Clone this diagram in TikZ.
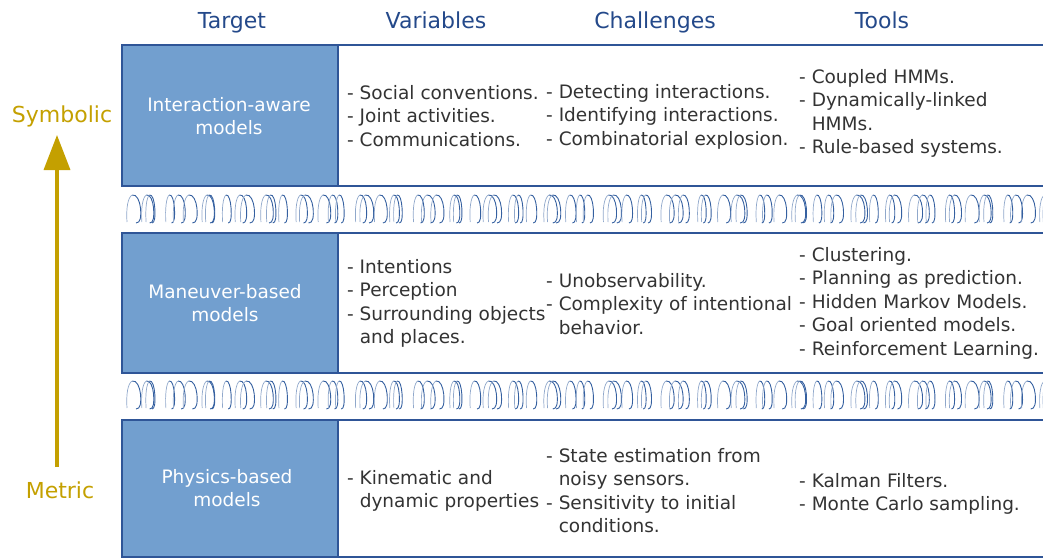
\documentclass[tikz,border=0pt]{standalone}
\usepackage{fontspec}
\setmainfont{DejaVu Sans}
\usetikzlibrary{arrows.meta}
\definecolor{hdr}{HTML}{24498A}
\definecolor{brd}{HTML}{2F5597}
\definecolor{boxfill}{HTML}{729FCF}
\definecolor{txt}{HTML}{333333}
\definecolor{gold}{HTML}{C4A000}
\definecolor{wavec}{HTML}{3560A0}
\newcommand\cellrows[1]{\begin{tabular}[t]{@{}l@{}}#1\end{tabular}}
\newcommand\ind{\phantom{- }}
% #1 = top y, #2 = bottom y
\newcommand\wavyband[2]{%
  \foreach \i in {0,...,78} {
    \pgfmathsetmacro\xa{127+11.8*\i+4.5*sin(\i*137)}
    \pgfmathsetmacro\ww{12+3*cos(\i*71)}
    \draw[wavec!55,line width=0.7pt] (\xa,#2-1) .. controls (\xa-1,#1+14) and (\xa+0.05*\ww,#1+2) .. (\xa+0.35*\ww,#1);
    \draw[wavec,line width=0.9pt] (\xa+0.35*\ww,#1) .. controls (\xa+0.65*\ww,#1-1) and (\xa+0.85*\ww,#1+6) .. (\xa+0.9*\ww,#1+13)
       .. controls (\xa+0.95*\ww,#2-6) and (\xa+0.9*\ww,#2) .. (\xa+0.6*\ww,#2);
  }%
}
\begin{document}
\begin{tikzpicture}[x=1pt,y=-1pt,
  hdrtxt/.style={text=hdr,font=\fontsize{22}{26}\selectfont,inner sep=0,anchor=base},
  celltxt/.style={text=txt,font=\fontsize{18.5}{23.5}\selectfont,inner sep=0,anchor=base west},
  lbltxt/.style={text=white,font=\fontsize{18.5}{23.5}\selectfont,align=center,inner sep=0},
  rowbox/.style={draw=brd,line width=2pt,fill=white},
  tgtbox/.style={draw=brd,line width=2pt,fill=boxfill},
  sidetxt/.style={text=gold,font=\fontsize{22}{26}\selectfont,inner sep=0,anchor=base}]
\useasboundingbox (0,0) rectangle (1043,558);
\clip (0,0) rectangle (1043,558);

% headers
\node[hdrtxt] (hTarget) at (232,28) {Target};
\node[hdrtxt] (hVar) at (436,28) {Variables};
\node[hdrtxt] (hChal) at (655,28) {Challenges};
\node[hdrtxt] (hTools) at (882,28) {Tools};

% rows
\draw[rowbox] (122,45) rectangle (1050,186);
\draw[tgtbox] (122,45) rectangle (338,186);
\draw[rowbox] (122,233) rectangle (1050,373);
\draw[tgtbox] (122,233) rectangle (338,373);
\draw[rowbox] (122,420) rectangle (1050,557);
\draw[tgtbox] (122,420) rectangle (338,557);

% wavy bands
\wavyband{195}{223}
\wavyband{381}{409}

% target labels
\node[lbltxt] (t1) at (229,116) {Interaction-aware\\models};
\node[lbltxt] (t2) at (225,303) {Maneuver-based\\models};
\node[lbltxt] (t3) at (227,488) {Physics-based\\models};

% row 1
\node[celltxt] (v1) at (347,99) {\cellrows{- Social conventions.\\- Joint activities.\\- Communications.}};
\node[celltxt] (c1) at (546,98) {\cellrows{- Detecting interactions.\\- Identifying interactions.\\- Combinatorial explosion.}};
\node[celltxt] (o1) at (799,83) {\cellrows{- Coupled HMMs.\\- Dynamically-linked\\\ind HMMs.\\- Rule-based systems.}};

% row 2
\node[celltxt] (v2) at (347,273) {\cellrows{- Intentions\\- Perception\\- Surrounding objects\\\ind and places.}};
\node[celltxt] (c2) at (546,287) {\cellrows{- Unobservability.\\- Complexity of intentional\\\ind behavior.}};
\node[celltxt] (o2) at (799,261) {\cellrows{- Clustering.\\- Planning as prediction.\\- Hidden Markov Models.\\- Goal oriented models.\\- Reinforcement Learning.}};

% row 3
\node[celltxt] (v3) at (347,484) {\cellrows{- Kinematic and\\\ind dynamic properties}};
\node[celltxt] (c3) at (546,462) {\cellrows{- State estimation from\\\ind noisy sensors.\\- Sensitivity to initial\\\ind conditions.}};
\node[celltxt] (o3) at (799,487) {\cellrows{- Kalman Filters.\\- Monte Carlo sampling.}};

% side axis
\node[sidetxt] (sym) at (62,122) {Symbolic};
\node[sidetxt] (met) at (60,498) {Metric};
\coordinate (abot) at (57,467);
\coordinate (atop) at (57,135);
\draw[gold,line width=3.5pt,-{Triangle[width=26pt,length=35pt]}] (abot) -- (atop);
\end{tikzpicture}
\end{document}
